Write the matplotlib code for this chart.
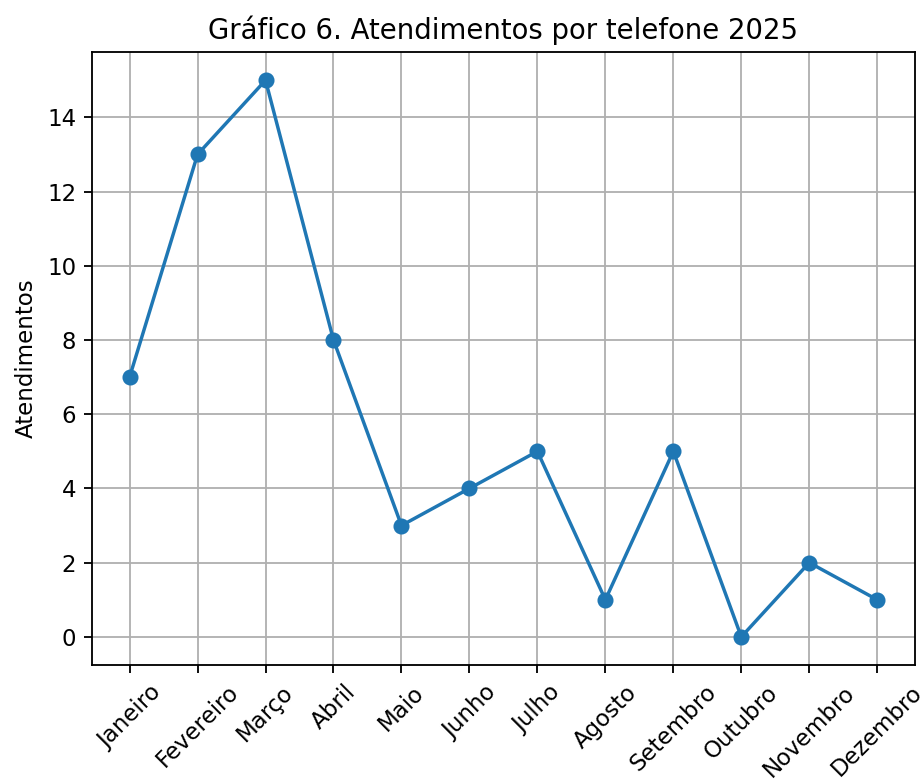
import matplotlib
matplotlib.use("Agg")
import matplotlib.pyplot as plt

meses = ['Janeiro', 'Fevereiro', 'Março', 'Abril', 'Maio', 'Junho',
         'Julho', 'Agosto', 'Setembro', 'Outubro', 'Novembro', 'Dezembro']
atendimentos = [7, 13, 15, 8, 3, 4, 5, 1, 5, 0, 2, 1]

fig, ax = plt.subplots(figsize=(922 / 165, 782 / 165), dpi=165)
fig.subplots_adjust(left=0.1, right=0.992, top=0.933, bottom=0.15)

ax.plot(meses, atendimentos, marker='o')
ax.set_title('Gráfico 6. Atendimentos por telefone 2025')
ax.set_ylabel('Atendimentos')
ax.grid(True)
plt.xticks(rotation=45)

fig.savefig('out.png')
